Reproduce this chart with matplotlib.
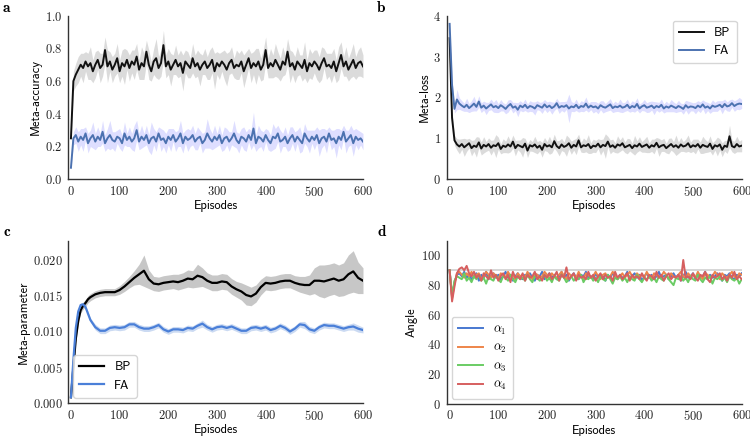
import numpy as np
import matplotlib
matplotlib.use("Agg")
import matplotlib.pyplot as plt
from matplotlib.ticker import FuncFormatter, MultipleLocator

plt.rcParams['mathtext.fontset'] = 'cm'
plt.rcParams['axes.edgecolor'] = '#333333'
plt.rcParams['axes.linewidth'] = 1.0

# ---------------- data ----------------
# panels a, b, d: one value every 5 episodes
EPISODIOS = list(range(0, 601, 5))

ACC_BP = [0.25,0.60,0.64,0.67,0.70,0.68,0.72,0.69,0.71,0.66,
          0.70,0.73,0.68,0.70,0.79,0.69,0.72,0.67,0.70,0.74,
          0.66,0.71,0.69,0.73,0.68,0.72,0.70,0.75,0.67,0.71,
          0.69,0.78,0.70,0.66,0.72,0.74,0.68,0.71,0.82,0.69,
          0.72,0.67,0.70,0.73,0.69,0.71,0.65,0.72,0.70,0.68,
          0.74,0.69,0.71,0.67,0.70,0.72,0.68,0.70,0.73,0.66,
          0.71,0.69,0.72,0.70,0.67,0.71,0.73,0.68,0.70,0.69,
          0.72,0.66,0.70,0.74,0.68,0.71,0.69,0.72,0.67,0.70,
          0.79,0.68,0.71,0.69,0.73,0.70,0.67,0.72,0.70,0.78,
          0.69,0.71,0.67,0.72,0.70,0.68,0.73,0.66,0.71,0.69,
          0.72,0.70,0.67,0.71,0.74,0.69,0.70,0.68,0.72,0.66,
          0.71,0.76,0.69,0.72,0.67,0.70,0.73,0.68,0.71,0.72,
          0.69]
ACC_BP_SD = [0.02,0.06,0.07,0.08,0.07,0.09,0.06,0.08,0.10,0.07,
             0.08,0.06,0.09,0.07,0.08,0.10,0.06,0.08,0.07,0.09,
             0.07,0.08,0.11,0.06,0.08,0.07,0.09,0.08,0.06,0.10,
             0.08,0.07,0.09,0.06,0.08,0.12,0.07,0.08,0.09,0.07,
             0.08,0.10,0.06,0.09,0.07,0.08,0.11,0.07,0.08,0.06,
             0.09,0.07,0.08,0.10,0.06,0.08,0.07,0.09,0.08,0.11,
             0.07,0.08,0.06,0.09,0.10,0.07,0.08,0.06,0.09,0.08,
             0.07,0.10,0.08,0.06,0.09,0.07,0.11,0.08,0.07,0.09,
             0.08,0.06,0.09,0.07,0.10,0.08,0.07,0.09,0.06,0.08,
             0.10,0.07,0.08,0.09,0.06,0.08,0.11,0.07,0.09,0.08,
             0.07,0.09,0.08,0.10,0.06,0.08,0.07,0.09,0.08,0.07,
             0.10,0.08,0.06,0.09,0.07,0.08,0.10,0.07,0.08,0.09,
             0.07]
ACC_FA = [0.07,0.25,0.27,0.23,0.26,0.24,0.28,0.22,0.25,0.27,
          0.23,0.26,0.24,0.29,0.22,0.25,0.27,0.24,0.23,0.26,
          0.25,0.22,0.28,0.24,0.26,0.23,0.25,0.30,0.23,0.26,
          0.24,0.27,0.22,0.25,0.26,0.23,0.28,0.24,0.25,0.22,
          0.26,0.24,0.27,0.23,0.25,0.28,0.22,0.26,0.24,0.25,
          0.27,0.23,0.25,0.26,0.22,0.24,0.28,0.25,0.23,0.26,
          0.24,0.27,0.22,0.25,0.26,0.23,0.25,0.28,0.24,0.22,
          0.26,0.25,0.23,0.27,0.24,0.31,0.22,0.26,0.25,0.23,
          0.27,0.24,0.22,0.26,0.25,0.28,0.23,0.24,0.26,0.22,
          0.25,0.27,0.23,0.26,0.24,0.22,0.28,0.25,0.23,0.26,
          0.24,0.27,0.22,0.25,0.26,0.23,0.28,0.24,0.25,0.22,
          0.26,0.24,0.29,0.23,0.25,0.27,0.22,0.26,0.24,0.25,
          0.23]
ACC_FA_SD = [0.01,0.04,0.05,0.06,0.05,0.07,0.04,0.06,0.05,0.08,
             0.05,0.06,0.04,0.07,0.05,0.06,0.09,0.05,0.06,0.04,
             0.06,0.05,0.07,0.04,0.06,0.05,0.08,0.06,0.05,0.07,
             0.04,0.06,0.05,0.10,0.05,0.06,0.04,0.07,0.05,0.06,
             0.05,0.07,0.04,0.06,0.05,0.08,0.06,0.04,0.07,0.05,
             0.06,0.05,0.07,0.04,0.06,0.05,0.09,0.06,0.05,0.07,
             0.04,0.06,0.05,0.07,0.05,0.06,0.04,0.08,0.05,0.06,
             0.05,0.07,0.06,0.04,0.06,0.10,0.05,0.07,0.05,0.06,
             0.04,0.06,0.05,0.08,0.06,0.05,0.07,0.04,0.06,0.05,
             0.07,0.05,0.06,0.04,0.08,0.05,0.06,0.05,0.07,0.04,
             0.06,0.05,0.08,0.06,0.05,0.07,0.04,0.06,0.05,0.09,
             0.05,0.06,0.04,0.07,0.05,0.06,0.08,0.05,0.06,0.04,
             0.05]

LOSS_BP = [3.45,1.50,0.95,0.85,0.80,0.86,0.78,0.83,0.88,0.76,
           0.82,0.79,0.90,0.75,0.84,0.80,0.86,0.77,0.83,0.81,
           0.88,0.74,0.82,0.79,0.85,0.80,0.92,0.76,0.84,0.81,
           0.78,0.87,0.70,0.83,0.80,0.85,0.77,0.82,0.72,0.86,
           0.80,0.83,0.78,0.93,0.81,0.76,0.85,0.79,0.82,0.88,
           0.77,0.84,0.80,0.95,0.78,0.83,0.81,0.86,0.76,0.82,
           0.80,0.87,0.78,0.84,0.81,0.92,0.79,0.83,0.77,0.85,
           0.82,0.88,0.78,0.81,0.84,0.76,0.83,0.80,0.87,0.79,
           0.82,0.85,0.77,0.83,0.80,0.89,0.78,0.82,0.84,0.76,
           0.81,0.86,0.79,0.83,0.77,0.85,0.80,0.82,0.88,0.78,
           0.83,0.80,0.86,0.77,0.84,0.81,0.79,0.87,0.74,0.83,
           0.80,0.85,0.72,0.82,0.79,1.05,0.81,0.78,0.86,0.80,
           0.82]
LOSS_BP_SD = [0.05,0.15,0.12,0.14,0.18,0.13,0.22,0.15,0.12,0.19,
              0.14,0.25,0.13,0.16,0.20,0.12,0.15,0.18,0.13,0.28,
              0.15,0.12,0.17,0.14,0.21,0.13,0.16,0.19,0.12,0.15,
              0.24,0.13,0.17,0.14,0.12,0.20,0.15,0.13,0.18,0.16,
              0.12,0.22,0.14,0.17,0.13,0.19,0.15,0.12,0.26,0.14,
              0.16,0.13,0.20,0.15,0.12,0.18,0.14,0.23,0.13,0.16,
              0.15,0.12,0.19,0.14,0.30,0.13,0.17,0.15,0.12,0.21,
              0.14,0.16,0.13,0.19,0.15,0.12,0.24,0.14,0.17,0.13,
              0.16,0.20,0.12,0.15,0.18,0.13,0.22,0.14,0.16,0.12,
              0.19,0.15,0.13,0.25,0.14,0.17,0.12,0.16,0.20,0.13,
              0.15,0.18,0.12,0.14,0.21,0.16,0.13,0.19,0.15,0.12,
              0.23,0.14,0.17,0.13,0.16,0.27,0.14,0.15,0.19,0.13,
              0.15]
LOSS_FA = [3.80,2.30,1.72,1.95,1.85,1.80,1.76,1.82,1.74,1.79,
           1.85,1.77,1.90,1.75,1.80,1.73,1.78,1.83,1.76,1.79,
           1.74,1.81,1.77,1.72,1.79,1.84,1.75,1.78,1.70,1.80,
           1.76,1.82,1.74,1.79,1.77,1.73,1.81,1.78,1.75,1.83,
           1.76,1.80,1.74,1.78,1.86,1.75,1.79,1.77,1.81,1.73,
           1.78,1.76,1.82,1.74,1.79,1.77,1.85,1.75,1.80,1.76,
           1.78,1.73,1.81,1.77,1.75,1.79,1.83,1.74,1.78,1.76,
           1.80,1.75,1.77,1.82,1.74,1.79,1.76,1.84,1.73,1.78,
           1.81,1.75,1.77,1.80,1.74,1.79,1.76,1.82,1.73,1.78,
           1.75,1.80,1.77,1.74,1.79,1.76,1.72,1.81,1.75,1.78,
           1.77,1.74,1.80,1.76,1.83,1.75,1.78,1.73,1.80,1.77,
           1.79,1.82,1.76,1.84,1.78,1.80,1.86,1.79,1.83,1.85,
           1.84]
LOSS_FA_SD = [0.05,0.15,0.10,0.25,0.14,0.12,0.10,0.16,0.11,0.13,
              0.18,0.10,0.14,0.12,0.11,0.15,0.10,0.13,0.12,0.16,
              0.11,0.14,0.10,0.12,0.15,0.11,0.13,0.10,0.17,0.12,
              0.11,0.14,0.10,0.13,0.12,0.16,0.11,0.10,0.14,0.12,
              0.13,0.11,0.15,0.10,0.12,0.14,0.11,0.13,0.10,0.35,
              0.12,0.11,0.14,0.10,0.13,0.12,0.16,0.11,0.10,0.14,
              0.12,0.13,0.11,0.15,0.10,0.12,0.14,0.11,0.13,0.10,
              0.16,0.12,0.11,0.14,0.10,0.13,0.12,0.15,0.11,0.10,
              0.14,0.12,0.13,0.11,0.16,0.10,0.12,0.14,0.11,0.13,
              0.10,0.15,0.12,0.11,0.14,0.10,0.13,0.12,0.16,0.11,
              0.10,0.14,0.12,0.13,0.11,0.15,0.10,0.12,0.14,0.11,
              0.13,0.10,0.16,0.12,0.11,0.14,0.10,0.13,0.12,0.15,
              0.11]

# panel c: smooth curves
EPISODIOS_C = [0, 5, 10, 15, 20, 25, 30, 35, 40] + list(range(50, 601, 10))
PARAM_BP = [0.0008,0.0050,0.0090,0.0115,0.0130,0.0136,0.0140,0.0145,0.0148,
            0.0152,0.0154,0.0155,0.0155,0.0155,0.0158,0.0163,0.0169,0.0175,0.0180,
            0.0185,0.0173,0.0167,0.0166,0.0168,0.0169,0.0170,0.0169,0.0171,0.0174,
            0.0173,0.0178,0.0176,0.0171,0.0168,0.0168,0.0170,0.0169,0.0163,0.0159,
            0.0156,0.0151,0.0149,0.0153,0.0162,0.0168,0.0167,0.0168,0.0170,0.0171,
            0.0171,0.0168,0.0166,0.0165,0.0165,0.0171,0.0171,0.0170,0.0172,0.0174,
            0.0171,0.0173,0.0180,0.0184,0.0175,0.0171]
PARAM_BP_SD = [0.0002,0.0003,0.0004,0.0004,0.0004,0.0005,0.0005,0.0005,0.0005,
               0.0005,0.0005,0.0005,0.0005,0.0005,0.0006,0.0007,0.0008,0.0010,0.0014,
               0.0022,0.0013,0.0010,0.0010,0.0010,0.0010,0.0010,0.0011,0.0011,0.0012,
               0.0012,0.0016,0.0013,0.0011,0.0011,0.0011,0.0011,0.0011,0.0011,0.0011,
               0.0012,0.0014,0.0013,0.0012,0.0011,0.0010,0.0010,0.0010,0.0010,0.0010,
               0.0010,0.0010,0.0011,0.0012,0.0014,0.0018,0.0022,0.0023,0.0022,0.0022,
               0.0022,0.0023,0.0027,0.0029,0.0022,0.0018]
PARAM_FA = [0.0008,0.0060,0.0105,0.0128,0.0137,0.0138,0.0134,0.0125,0.0116,
            0.0106,0.0101,0.0101,0.0105,0.0106,0.0105,0.0106,0.0110,0.0110,0.0106,
            0.0104,0.0104,0.0106,0.0109,0.0103,0.0100,0.0103,0.0103,0.0102,0.0105,
            0.0104,0.0108,0.0111,0.0106,0.0103,0.0106,0.0107,0.0105,0.0107,0.0104,
            0.0101,0.0101,0.0105,0.0106,0.0104,0.0106,0.0102,0.0104,0.0108,0.0105,
            0.0100,0.0104,0.0110,0.0109,0.0103,0.0101,0.0106,0.0109,0.0108,0.0108,
            0.0106,0.0104,0.0106,0.0107,0.0104,0.0102]
PARAM_FA_SD = [0.0001,0.0002,0.0003,0.0003,0.0003,0.0003,0.0003,0.0003,0.0003,
               0.0004,0.0004,0.0004,0.0004,0.0004,0.0004,0.0004,0.0004,0.0004,0.0004,
               0.0004,0.0004,0.0004,0.0004,0.0004,0.0004,0.0004,0.0004,0.0004,0.0004,
               0.0004,0.0004,0.0005,0.0004,0.0004,0.0004,0.0004,0.0004,0.0004,0.0004,
               0.0004,0.0004,0.0004,0.0004,0.0004,0.0004,0.0004,0.0004,0.0004,0.0004,
               0.0004,0.0004,0.0004,0.0005,0.0004,0.0004,0.0004,0.0004,0.0004,0.0004,
               0.0004,0.0004,0.0004,0.0005,0.0005,0.0004]

# panel d: angles
ANG_1 = [90,72,82,87,88,86,89,85,87,84,
         86,88,83,87,85,89,84,86,88,85,
         87,84,86,89,85,87,83,86,88,85,
         84,87,86,88,85,83,87,86,89,84,
         86,88,85,87,84,86,89,85,87,83,
         86,88,85,84,87,86,89,85,86,84,
         88,85,87,86,83,87,85,88,86,84,
         87,85,86,89,84,86,88,85,87,83,
         86,88,85,87,84,86,89,85,86,87,
         84,86,88,85,87,83,86,89,85,86,
         88,84,87,85,86,89,84,87,85,86,
         88,85,83,87,86,88,85,84,87,86,
         88]
ANG_2 = [90,71,81,88,89,87,85,88,86,89,
         85,87,88,84,86,89,87,85,88,86,
         84,88,87,85,89,86,87,84,88,86,
         87,85,89,86,84,88,87,85,86,89,
         87,84,88,86,85,87,89,86,84,88,
         86,87,85,89,86,84,88,87,85,86,
         89,86,84,87,88,85,86,89,87,84,
         86,88,85,87,89,86,84,88,86,87,
         85,89,86,84,88,87,85,86,89,87,
         84,88,86,85,87,89,86,84,88,86,
         87,85,89,86,84,88,87,85,86,89,
         87,84,88,86,85,87,89,86,84,88,
         87]
ANG_3 = [90,73,83,86,85,84,88,83,85,82,
         86,84,87,83,85,81,86,84,83,87,
         84,82,86,85,83,87,84,82,86,84,
         85,83,87,84,82,86,85,83,84,87,
         83,85,82,86,84,83,87,85,82,84,
         86,83,85,84,87,82,85,84,86,83,
         85,82,86,84,83,87,84,81,85,84,
         86,83,85,82,86,84,83,87,84,82,
         85,84,86,83,85,82,86,84,83,87,
         84,82,80,85,84,86,83,85,82,86,
         84,83,87,84,82,85,84,86,81,85,
         84,86,83,85,82,86,84,83,85,81,
         84]
ANG_4 = [90,69,79,88,91,92,90,93,88,86,
         89,85,87,83,88,86,84,90,85,87,
         83,86,88,84,87,82,89,85,86,84,
         88,83,87,85,86,89,84,86,83,87,
         85,88,84,86,89,83,87,85,92,84,
         86,88,83,87,85,86,84,89,85,87,
         83,86,88,84,87,85,86,83,89,85,
         87,84,86,88,83,87,85,86,84,88,
         85,83,87,86,84,89,85,87,83,86,
         88,84,86,85,87,83,97,85,86,84,
         88,85,83,87,86,89,84,82,87,85,
         86,88,84,86,83,87,85,89,84,86,
         84]
ANGULO_REF = 90

COR_BP = '#111111'
COR_FA = '#4c72b0'
COR_FA_C = '#4a7fd8'
CORES_ANG = ['#4878d0', '#ee854a', '#6acc64', '#d65f5f']

SANS = 'cmss10'
TAM = 9


def formatar(casas):
    return FuncFormatter(lambda v, p: '$%s$' % (('%.' + str(casas) + 'f') % v))


def estilo(ax, ylim, passo_y, casas, ylabel):
    ax.set_xlim(-6, 600)
    ax.set_ylim(*ylim)
    ax.xaxis.set_major_locator(MultipleLocator(100))
    ax.yaxis.set_major_locator(MultipleLocator(passo_y))
    ax.xaxis.set_major_formatter(formatar(0))
    ax.yaxis.set_major_formatter(formatar(casas))
    ax.tick_params(length=0, labelsize=TAM, pad=4, colors='#222222')
    ax.spines['top'].set_visible(False)
    ax.spines['right'].set_visible(False)
    ax.set_xlabel('Episodes', family=SANS, fontsize=TAM, labelpad=1)
    ax.set_ylabel(ylabel, family=SANS, fontsize=TAM, labelpad=2)


def banda(ax, x, y, sd, cor_linha, cor_banda, alpha, lw=1.4, label=None):
    y = np.array(y)
    sd = np.array(sd)
    ax.fill_between(x, y - sd, y + sd, color=cor_banda, alpha=alpha, lw=0)
    ax.plot(x, y, color=cor_linha, lw=lw, label=label)


def legenda(ax, loc, prop, espaco):
    ax.legend(loc=loc, prop=prop, frameon=True, edgecolor='#cccccc',
              handlelength=2.0, borderpad=0.5, labelspacing=espaco,
              handletextpad=0.8, borderaxespad=0.4)


fig = plt.figure(figsize=(7.5, 4.36), dpi=100)
ax_a = fig.add_axes([0.0907, 0.589, 0.3933, 0.375])
ax_b = fig.add_axes([0.5956, 0.589, 0.3933, 0.375])
ax_c = fig.add_axes([0.0907, 0.0757, 0.3933, 0.3723])
ax_d = fig.add_axes([0.5956, 0.0740, 0.3933, 0.3740])

# a
banda(ax_a, EPISODIOS, ACC_BP, ACC_BP_SD, COR_BP, '#9a9a9a', 0.35)
banda(ax_a, EPISODIOS, ACC_FA, ACC_FA_SD, COR_FA, '#5a5aff', 0.2)
estilo(ax_a, (0, 1.0), 0.2, 1, 'Meta-accuracy')

# b
banda(ax_b, EPISODIOS, LOSS_BP, LOSS_BP_SD, COR_BP, '#9a9a9a', 0.35, label='BP')
banda(ax_b, EPISODIOS, LOSS_FA, LOSS_FA_SD, COR_FA, '#5a5aff', 0.2, label='FA')
estilo(ax_b, (0, 4.0), 1, 0, 'Meta-loss')
legenda(ax_b, 'upper right', {'family': SANS, 'size': TAM}, 0.5)

# c
banda(ax_c, EPISODIOS_C, PARAM_BP, PARAM_BP_SD, 'black', '#b0b0b0', 0.7, lw=1.6, label='BP')
banda(ax_c, EPISODIOS_C, PARAM_FA, PARAM_FA_SD, COR_FA_C, '#a9c2ea', 0.6, lw=1.6, label='FA')
estilo(ax_c, (0, 0.0227), 0.005, 3, 'Meta-parameter')
legenda(ax_c, 'lower left', {'family': SANS, 'size': TAM}, 0.5)

# d
ax_d.axhline(ANGULO_REF, color='#cfcfcf', lw=1.2)
for i, serie in enumerate([ANG_1, ANG_2, ANG_3, ANG_4]):
    ax_d.plot(EPISODIOS, serie, color=CORES_ANG[i], lw=1.4,
              label=r'$\alpha_%d$' % (i + 1))
estilo(ax_d, (0, 110), 20, 0, 'Angle')
legenda(ax_d, 'lower left', {'size': TAM}, 0.35)

# panel letters
for x, y, letra in [(0.004, 0.982, 'a'), (0.503, 0.982, 'b'),
                    (0.004, 0.468, 'c'), (0.503, 0.468, 'd')]:
    fig.text(x, y, letra, family='cmb10', fontsize=11, va='center')

fig.savefig('out.png', dpi=100)
